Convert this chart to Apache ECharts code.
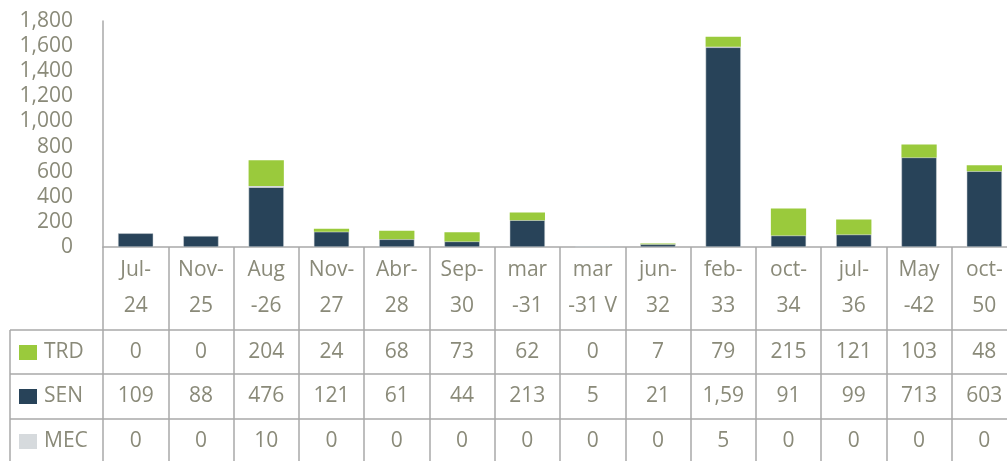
<!DOCTYPE html>
<html>
<head>
<meta charset="utf-8">
<script src="https://cdn.jsdelivr.net/npm/echarts@6/dist/echarts.min.js"></script>
<style>
html,body{margin:0;padding:0;background:#fff;overflow:hidden}
/* wider than the window: the last column is cut off like in the original */
#main{width:1020px;height:461px}
</style>
</head>
<body>
<div id="main"></div>
<script>
// tick labels as they wrap in the original
var categories=["Jul-\n24","Nov-\n25","Aug\n-26","Nov-\n27","Abr-\n28","Sep-\n30","mar\n-31","mar\n-31 V","jun-\n32","feb-\n33","oct-\n34","jul-\n36","May\n-42","oct-\n50"]
var trd=[0,0,204,24,68,73,62,0,7,79,215,121,103,48]
var sen=[109,88,476,121,61,44,213,5,21,1590,91,99,713,603]
var mec=[0,0,10,0,0,0,0,0,0,5,0,0,0,0]
var yTicks=[0,200,400,600,800,1000,1200,1400,1600,1800]

var txt='#8a8a79'
var lineCol='#a9a9a9'
var font='Open Sans'
var fs=21
var colTRD='#9aca3c', colSEN='#284359', colMEC='#d6dadd'

var chartDom=document.getElementById('main')
var myChart=echarts.init(chartDom)
var option={
	animation:false,
	grid:{left:103,right:3,top:21,bottom:214},
	xAxis:{
		type:'category',
		data:categories,
		axisLine:{lineStyle:{color:lineCol,width:1.5}},
		axisTick:{show:true,length:214,lineStyle:{color:lineCol,width:1.5}},
		axisLabel:{interval:0,color:txt,fontSize:fs,fontFamily:font,lineHeight:36,margin:5}
	},
	yAxis:{
		type:'value',
		min:yTicks[0],max:yTicks[yTicks.length-1],interval:200,
		axisLine:{show:true,lineStyle:{color:lineCol,width:1.5}},
		axisTick:{show:false},
		splitLine:{show:false},
		axisLabel:{color:txt,fontSize:fs,fontFamily:font,margin:30,
			formatter:function(v){return v.toLocaleString('en-US')}}
	},
	series:[
		{name:'SEN',type:'bar',stack:'a',data:sen,barWidth:'54%',itemStyle:{color:colSEN,borderColor:'#d6dadd',borderWidth:0.5}},
		{name:'MEC',type:'bar',stack:'a',data:mec,itemStyle:{color:colMEC}},
		{name:'TRD',type:'bar',stack:'a',data:trd,itemStyle:{color:colTRD}}
	]
}
myChart.setOption(option)

// data table under the axis
var rows=[{name:'TRD',color:colTRD,vals:trd},{name:'SEN',color:colSEN,vals:sen},{name:'MEC',color:colMEC,vals:mec}]
var rowTop=[330,374,419]
var rowH=44
var g=[]
rowTop.forEach(function(y){
	g.push({type:'line',shape:{x1:10,y1:y,x2:1020,y2:y},style:{stroke:lineCol,lineWidth:1.5}})
})
g.push({type:'line',shape:{x1:10,y1:330,x2:10,y2:461},style:{stroke:lineCol,lineWidth:1.5}})
var band=myChart.convertToPixel({xAxisIndex:0},1)-myChart.convertToPixel({xAxisIndex:0},0)
rows.forEach(function(r,k){
	var cy=rowTop[k]+rowH/2
	g.push({type:'rect',shape:{x:19,y:cy-7,width:18,height:15},style:{fill:r.color}})
	g.push({type:'text',x:44,y:cy,style:{text:r.name,fill:txt,font:fs+'px "'+font+'"',verticalAlign:'middle'}})
	r.vals.forEach(function(v,i){
		var cx=myChart.convertToPixel({xAxisIndex:0},i)
		g.push({type:'text',x:cx,y:cy,style:{text:v.toLocaleString('en-US'),fill:txt,font:fs+'px "'+font+'"',
			align:'center',verticalAlign:'middle',width:band-14,overflow:'truncate',ellipsis:''}})
	})
})
myChart.setOption({graphic:g})
</script>
</body>
</html>
